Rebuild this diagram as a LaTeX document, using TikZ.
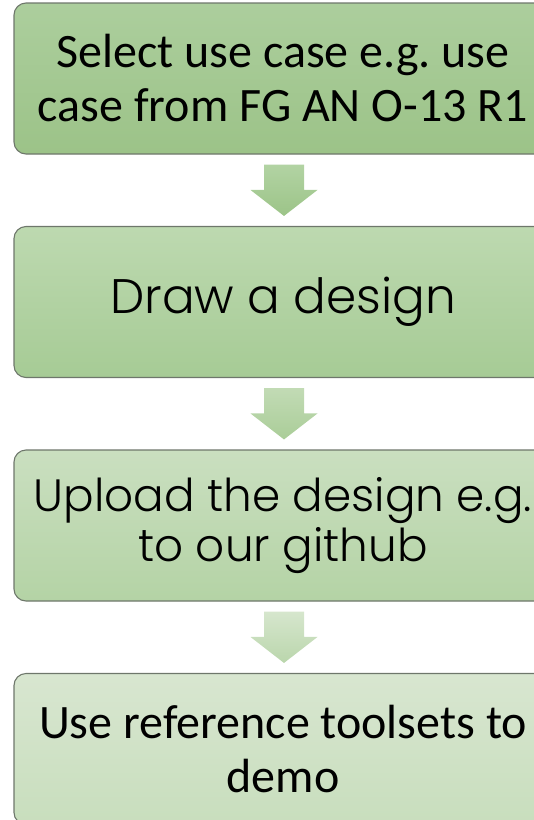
\documentclass[tikz,border=0pt]{standalone}
\usepackage{fontspec}
\setmainfont{Carlito}
\IfFontExistsTF{Poppins Light}{\newfontfamily\geo{Poppins Light}}{\newfontfamily\geo{Poppins}}
\usetikzlibrary{calc}
\frenchspacing

\definecolor{edge}{HTML}{6E776B}

\tikzset{
  stepbox/.style={draw=edge, line width=1.1pt, rounded corners=12pt,
    minimum width=538pt, minimum height=151pt, inner sep=0pt,
    align=center, shading=axis},
  cal/.style={font=\fontsize{48}{54}\selectfont},
  blockarrow/.style={shading=axis}
}

% downward block arrow between two boxes: #1 from, #2 to, #3 top colour, #4 bottom colour
\newcommand{\downarrowblock}[4]{%
  \path[blockarrow, top color=#3, bottom color=#4]
    let \p1=(#1.south), \p2=(#2.north) in
    (\x1-19pt,\y1-10pt) -- (\x1+21pt,\y1-10pt) -- (\x1+21pt,\y2+36pt)
    -- (\x1+34.5pt,\y2+36pt) -- (\x1+1pt,\y2+10pt) -- (\x1-32.5pt,\y2+36pt)
    -- (\x1-19pt,\y2+36pt) -- cycle;}

\begin{document}
\begin{tikzpicture}[x=1pt, y=-1pt]
  \useasboundingbox (0,0) rectangle (534,820);
  \clip (0,0) rectangle (534,820);

  \node[stepbox, top color={rgb,255:red,172;green,206;blue,157},
        bottom color={rgb,255:red,156;green,195;blue,136}, cal]
    (b1) at (283,78.5) {Select use case e.g. use\\case from FG AN O-13 R1};

  \node[stepbox, top color={rgb,255:red,189;green,217;blue,176},
        bottom color={rgb,255:red,166;green,203;blue,149},
        font=\geo\fontsize{48.5}{56}\selectfont]
    (b2) at (283,302) {Draw a design};

  \node[stepbox, top color={rgb,255:red,202;green,223;blue,192},
        bottom color={rgb,255:red,180;green,211;blue,165},
        font=\geo\fontsize{45.3}{50}\selectfont]
    (b3) at (283,525.5) {Upload the design e.g.\\to our github};

  \node[stepbox, top color={rgb,255:red,216;green,230;blue,208},
        bottom color={rgb,255:red,200;green,222;blue,189}, cal]
    (b4) at (283,749) {Use reference toolsets to\\demo};

  \downarrowblock{b1}{b2}{{rgb,255:red,178;green,211;blue,163}}{{rgb,255:red,156;green,196;blue,136}}
  \downarrowblock{b2}{b3}{{rgb,255:red,194;green,219;blue,181}}{{rgb,255:red,170;green,205;blue,152}}
  \downarrowblock{b3}{b4}{{rgb,255:red,214;green,230;blue,205}}{{rgb,255:red,186;green,214;blue,172}}
\end{tikzpicture}
\end{document}
